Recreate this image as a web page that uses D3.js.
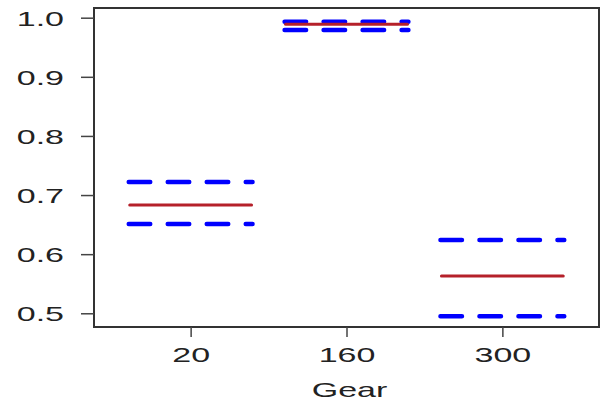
<!DOCTYPE html>
<html>
<head>
<meta charset="utf-8">
<script src="https://cdn.jsdelivr.net/npm/d3@7"></script>
<style>
  html, body { margin: 0; padding: 0; background: #fff; }
  svg { display: block; font-family: "Liberation Sans", Arial, sans-serif; }
</style>
</head>
<body>
<svg id="chart" width="609" height="404"></svg>
<script>
// Gear groups and the estimate with its lower/upper bounds
const categories = ["20", "160", "300"];
const estimate = [0.683, 0.989, 0.563];
const lower = [0.651, 0.979, 0.495];
const upper = [0.722, 0.993, 0.624];
const yTicks = [0.5, 0.6, 0.7, 0.8, 0.9, 1.0];
const xLabel = "Gear";

const W = 609, H = 404;
const plot = { left: 94, right: 599, top: 8, bottom: 327 };
const stretch = 1.62;   // wide lettering
const fontSize = 21;
const textColor = "#222";

const svg = d3.select("#chart");

const x = d3.scaleLinear()
  .domain([0.38, 3.62])
  .range([plot.left, plot.right]);

const y = d3.scaleLinear()
  .domain([0.4768, 1.0164])
  .range([plot.bottom, plot.top]);

const halfWidth = 0.41;

// bounds: blue dashed
const bounds = [];
categories.forEach((c, i) => {
  bounds.push({ i, v: lower[i] });
  bounds.push({ i, v: upper[i] });
});

svg.append("g").selectAll("line")
  .data(bounds)
  .join("line")
  .attr("x1", d => x(d.i + 1 - halfWidth) + 2)
  .attr("x2", d => x(d.i + 1 + halfWidth) - 2)
  .attr("y1", d => y(d.v))
  .attr("y2", d => y(d.v))
  .attr("stroke", "#0000ff")
  .attr("stroke-width", 4.5)
  .attr("stroke-linecap", "round")
  .attr("stroke-dasharray", "21.5 17.5");

// estimate: red solid
svg.append("g").selectAll("line")
  .data(estimate)
  .join("line")
  .attr("x1", (d, i) => x(i + 1 - halfWidth) + 3)
  .attr("x2", (d, i) => x(i + 1 + halfWidth) - 3)
  .attr("y1", d => y(d))
  .attr("y2", d => y(d))
  .attr("stroke", "#b5202a")
  .attr("stroke-width", 3)
  .attr("stroke-linecap", "round");

// frame
svg.append("rect")
  .attr("x", plot.left)
  .attr("y", plot.top)
  .attr("width", plot.right - plot.left)
  .attr("height", plot.bottom - plot.top)
  .attr("fill", "none")
  .attr("stroke", "#333")
  .attr("stroke-width", 2);

// y axis
const yAxis = svg.append("g")
  .attr("transform", `translate(${plot.left},0)`)
  .call(d3.axisLeft(y).tickValues(yTicks).tickFormat(d3.format(".1f")).tickSize(13).tickPadding(17));
yAxis.select(".domain").remove();
yAxis.selectAll(".tick line").attr("stroke", "#444").attr("stroke-width", 1.5);
yAxis.selectAll(".tick text")
  .attr("fill", textColor)
  .attr("font-size", fontSize)
  .attr("font-family", "Liberation Sans, Arial, sans-serif")
  .attr("x", -30 / stretch)
  .attr("dy", "0.36em")
  .attr("transform", `scale(${stretch},1)`);

// x axis
const xAxis = svg.append("g")
  .attr("transform", `translate(0,${plot.bottom})`)
  .call(d3.axisBottom(x).tickValues([1, 2, 3]).tickFormat((d, i) => categories[i]).tickSize(10).tickPadding(3));
xAxis.select(".domain").remove();
xAxis.selectAll(".tick line").attr("stroke", "#444").attr("stroke-width", 1.5);
xAxis.selectAll(".tick text")
  .attr("fill", textColor)
  .attr("font-size", fontSize)
  .attr("font-family", "Liberation Sans, Arial, sans-serif")
  .attr("y", 35)
  .attr("dy", 0)
  .attr("transform", `scale(${stretch},1)`)
  .attr("x", 0);
// keep the scaled labels centred on their ticks
xAxis.selectAll(".tick").each(function() {
  const t = d3.select(this);
  const tx = +t.attr("transform").match(/translate\(([-\d.]+)/)[1];
  t.attr("transform", `translate(${tx},0)`);
  t.select("text").attr("x", 0);
});

// x title
svg.append("text")
  .attr("transform", `translate(${(plot.left + plot.right) / 2 + 3},397) scale(${stretch},1)`)
  .attr("text-anchor", "middle")
  .attr("fill", textColor)
  .attr("font-size", fontSize)
  .text(xLabel);
</script>
</body>
</html>
